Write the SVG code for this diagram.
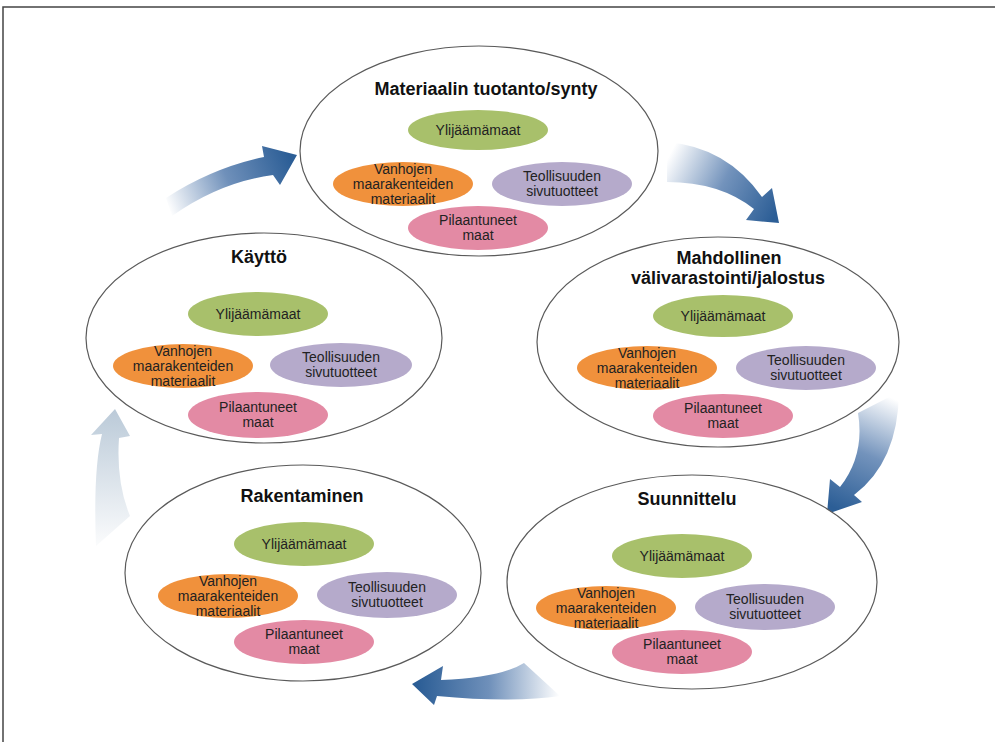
<svg xmlns="http://www.w3.org/2000/svg" width="995" height="742" viewBox="0 0 995 742">
<style>
.outer{fill:#fff;stroke:#5a5a5a;stroke-width:1.2}
.g{fill:#a8c06b}.o{fill:#f0913c}.p{fill:#b5aacb}.k{fill:#e38aa4}
.t{font-family:"Liberation Sans",Arial,sans-serif;font-size:18px;font-weight:bold;fill:#111;text-anchor:middle}
.s{font-family:"Liberation Sans",Arial,sans-serif;font-size:14px;fill:#222;text-anchor:middle}
</style>
<defs>
<linearGradient id="a1" gradientUnits="userSpaceOnUse" x1="168" y1="208" x2="290" y2="158"><stop offset="0" stop-color="#fff"/><stop offset="0.5" stop-color="#6f90ba"/><stop offset="1" stop-color="#2c5e96"/></linearGradient>
<linearGradient id="a2" gradientUnits="userSpaceOnUse" x1="667" y1="160" x2="775" y2="215"><stop offset="0" stop-color="#fff"/><stop offset="0.5" stop-color="#7393bc"/><stop offset="1" stop-color="#2c5e96"/></linearGradient>
<linearGradient id="a3" gradientUnits="userSpaceOnUse" x1="885" y1="395" x2="835" y2="508"><stop offset="0" stop-color="#fff"/><stop offset="0.5" stop-color="#7393bc"/><stop offset="1" stop-color="#2c5e96"/></linearGradient>
<linearGradient id="a4" gradientUnits="userSpaceOnUse" x1="560" y1="685" x2="418" y2="684"><stop offset="0" stop-color="#fff"/><stop offset="0.5" stop-color="#6f90ba"/><stop offset="1" stop-color="#2c5e96"/></linearGradient>
<linearGradient id="a5" gradientUnits="userSpaceOnUse" x1="110" y1="545" x2="112" y2="412"><stop offset="0" stop-color="#fafbfc"/><stop offset="1" stop-color="#bccbd9"/></linearGradient>
</defs>
<g id="frame"><path d="M3,742 V7 H995" fill="none" stroke="#444" stroke-width="1.5"/></g>
<g id="connectors">
<path d="M172,216 Q220,182 273,175 L280,185 L297,155 L262,146 L264,157 Q212,168 166,198 Z" fill="url(#a1)"/>
<path d="M667,142 Q727,147 762,197 L772,188 L779,223 L746,220 L754,209 Q720,182 667,182 Z" fill="url(#a2)"/>
<path d="M899,392 Q898,462 854,495 L862,502 L827,514 L830,479 L840,487 Q865,455 858,413 Z" fill="url(#a3)"/>
<path d="M524,663 Q500,678 441,680 L443,666 L412,684 L434,705 L437,696 Q512,703 560,696 Z" fill="url(#a4)"/>
<path d="M96,546 Q93,470 102,434 L91,435 L115,409 L130,436 L119,438 Q116,482 130,516 Z" fill="url(#a5)"/>
</g>
<g id="n-tuotanto">
<ellipse class="outer" cx="479" cy="151" rx="179" ry="105"/>
<text class="t" x="486" y="95">Materiaalin tuotanto/synty</text>
<ellipse class="g" cx="478" cy="130" rx="70" ry="20"/><text class="s" x="478" y="135">Ylijäämämaat</text>
<ellipse class="o" cx="403" cy="184" rx="70" ry="22"/><text class="s" x="403" y="174">Vanhojen<tspan x="403" dy="15">maarakenteiden</tspan><tspan x="403" dy="15">materiaalit</tspan></text>
<ellipse class="p" cx="562" cy="184" rx="70" ry="22"/><text class="s" x="562" y="181">Teollisuuden<tspan x="562" dy="15">sivutuotteet</tspan></text>
<ellipse class="k" cx="478" cy="228" rx="70" ry="22"/><text class="s" x="478" y="225">Pilaantuneet<tspan x="478" dy="15">maat</tspan></text>
</g>
<g id="n-kaytto">
<ellipse class="outer" cx="264" cy="338" rx="178" ry="105"/>
<text class="t" x="259" y="263">Käyttö</text>
<ellipse class="g" cx="258" cy="314" rx="70" ry="22"/><text class="s" x="258" y="319">Ylijäämämaat</text>
<ellipse class="o" cx="183" cy="366" rx="70" ry="22"/><text class="s" x="183" y="356">Vanhojen<tspan x="183" dy="15">maarakenteiden</tspan><tspan x="183" dy="15">materiaalit</tspan></text>
<ellipse class="p" cx="341" cy="365" rx="71" ry="22"/><text class="s" x="341" y="362">Teollisuuden<tspan x="341" dy="15">sivutuotteet</tspan></text>
<ellipse class="k" cx="258" cy="415" rx="70" ry="23"/><text class="s" x="258" y="412">Pilaantuneet<tspan x="258" dy="15">maat</tspan></text>
</g>
<g id="n-valivarastointi">
<ellipse class="outer" cx="718" cy="342" rx="181" ry="105"/>
<text class="t" x="729" y="264">Mahdollinen<tspan x="728" dy="20">välivarastointi/jalostus</tspan></text>
<ellipse class="g" cx="723" cy="316" rx="70" ry="21"/><text class="s" x="723" y="321">Ylijäämämaat</text>
<ellipse class="o" cx="647" cy="368" rx="70" ry="22"/><text class="s" x="647" y="358">Vanhojen<tspan x="647" dy="15">maarakenteiden</tspan><tspan x="647" dy="15">materiaalit</tspan></text>
<ellipse class="p" cx="806" cy="368" rx="70" ry="22"/><text class="s" x="806" y="365">Teollisuuden<tspan x="806" dy="15">sivutuotteet</tspan></text>
<ellipse class="k" cx="723" cy="416" rx="70" ry="22"/><text class="s" x="723" y="413">Pilaantuneet<tspan x="723" dy="15">maat</tspan></text>
</g>
<g id="n-rakentaminen">
<ellipse class="outer" cx="303" cy="573" rx="178" ry="108"/>
<text class="t" x="302" y="502">Rakentaminen</text>
<ellipse class="g" cx="304" cy="544" rx="70" ry="22"/><text class="s" x="304" y="549">Ylijäämämaat</text>
<ellipse class="o" cx="228" cy="596" rx="70" ry="22"/><text class="s" x="228" y="586">Vanhojen<tspan x="228" dy="15">maarakenteiden</tspan><tspan x="228" dy="15">materiaalit</tspan></text>
<ellipse class="p" cx="387" cy="595" rx="70" ry="23"/><text class="s" x="387" y="592">Teollisuuden<tspan x="387" dy="15">sivutuotteet</tspan></text>
<ellipse class="k" cx="304" cy="642" rx="70" ry="22"/><text class="s" x="304" y="639">Pilaantuneet<tspan x="304" dy="15">maat</tspan></text>
</g>
<g id="n-suunnittelu">
<ellipse class="outer" cx="692" cy="582" rx="185" ry="107"/>
<text class="t" x="687" y="505">Suunnittelu</text>
<ellipse class="g" cx="682" cy="556" rx="70" ry="22"/><text class="s" x="682" y="561">Ylijäämämaat</text>
<ellipse class="o" cx="606" cy="608" rx="70" ry="22"/><text class="s" x="606" y="598">Vanhojen<tspan x="606" dy="15">maarakenteiden</tspan><tspan x="606" dy="15">materiaalit</tspan></text>
<ellipse class="p" cx="765" cy="607" rx="70" ry="23"/><text class="s" x="765" y="604">Teollisuuden<tspan x="765" dy="15">sivutuotteet</tspan></text>
<ellipse class="k" cx="682" cy="652" rx="70" ry="22"/><text class="s" x="682" y="649">Pilaantuneet<tspan x="682" dy="15">maat</tspan></text>
</g>
</svg>
